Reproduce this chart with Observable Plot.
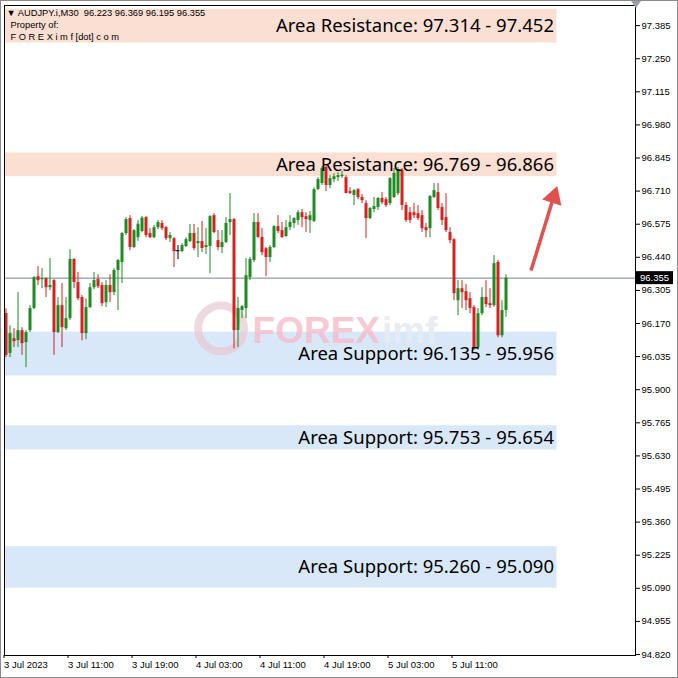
<!DOCTYPE html>
<html><head><meta charset="utf-8">
<script src="https://cdn.jsdelivr.net/npm/d3@7"></script>
<script src="https://cdn.jsdelivr.net/npm/@observablehq/plot@0.6"></script>
<style>
html,body{margin:0;padding:0;background:#fff;}
#chart{width:678px;height:678px;position:relative;overflow:hidden;}
#chart svg{display:block;}
</style></head><body><div id="chart"></div>
<script>
const symbol = "AUDJPY.i,M30";
const opens  = [96.211,96.048,96.108,96.100,96.141,96.092,96.141,96.231,96.361,96.349,96.353,96.316,96.345,96.133,96.243,96.149,96.190,96.431,96.337,96.276,96.129,96.235,96.316,96.349,96.325,96.255,96.325,96.296,96.386,96.419,96.537,96.598,96.480,96.520,96.545,96.602,96.537,96.520,96.561,96.578,96.561,96.516,96.516,96.467,96.463,96.484,96.504,96.537,96.496,96.504,96.480,96.484,96.610,96.508,96.480,96.500,96.582,96.594,96.141,96.223,96.231,96.357,96.427,96.582,96.521,96.475,96.439,96.480,96.565,96.549,96.525,96.561,96.578,96.590,96.622,96.606,96.590,96.586,96.716,96.741,96.806,96.733,96.757,96.765,96.769,96.765,96.708,96.692,96.716,96.684,96.659,96.598,96.635,96.643,96.680,96.675,96.659,96.684,96.700,96.794,96.651,96.622,96.622,96.618,96.610,96.561,96.557,96.684,96.704,96.643,96.602,96.541,96.512,96.263,96.312,96.300,96.271,96.235,96.072,96.210,96.276,96.251,96.243,96.419,96.120,96.223];
const highs  = [96.230,96.161,96.149,96.296,96.153,96.141,96.243,96.361,96.402,96.394,96.357,96.435,96.349,96.276,96.333,96.276,96.471,96.435,96.378,96.284,96.271,96.333,96.378,96.369,96.337,96.345,96.369,96.394,96.431,96.541,96.602,96.610,96.553,96.590,96.606,96.606,96.557,96.570,96.590,96.590,96.565,96.541,96.520,96.488,96.496,96.520,96.574,96.574,96.561,96.586,96.557,96.610,96.618,96.549,96.549,96.602,96.700,96.598,96.276,96.243,96.435,96.439,96.618,96.618,96.557,96.480,96.488,96.570,96.610,96.582,96.590,96.610,96.602,96.631,96.635,96.622,96.627,96.724,96.765,96.810,96.814,96.773,96.781,96.786,96.790,96.773,96.724,96.716,96.720,96.696,96.671,96.643,96.684,96.684,96.704,96.684,96.765,96.802,96.806,96.802,96.663,96.643,96.659,96.651,96.631,96.578,96.692,96.741,96.741,96.659,96.700,96.561,96.516,96.345,96.345,96.329,96.296,96.243,96.231,96.316,96.345,96.312,96.447,96.427,96.263,96.369];
const lows   = [96.031,96.031,96.072,96.072,96.040,95.990,96.133,96.227,96.325,96.312,96.276,96.304,96.040,96.129,96.072,96.141,96.182,96.312,96.263,96.100,96.104,96.231,96.308,96.312,96.239,96.235,96.255,96.284,96.223,96.333,96.529,96.467,96.476,96.505,96.540,96.520,96.516,96.516,96.553,96.549,96.508,96.500,96.398,96.431,96.459,96.480,96.500,96.467,96.439,96.459,96.451,96.373,96.537,96.467,96.455,96.496,96.529,96.067,96.072,96.190,96.190,96.345,96.419,96.516,96.447,96.361,96.419,96.476,96.537,96.516,96.521,96.549,96.557,96.570,96.561,96.541,96.537,96.582,96.712,96.733,96.708,96.720,96.745,96.749,96.761,96.700,96.696,96.651,96.675,96.659,96.516,96.594,96.622,96.631,96.655,96.643,96.651,96.680,96.692,96.631,96.582,96.578,96.598,96.590,96.541,96.520,96.520,96.680,96.631,96.570,96.541,96.496,96.263,96.202,96.231,96.223,96.210,96.060,96.060,96.202,96.235,96.231,96.235,96.112,96.112,96.195];
const closes = [96.040,96.129,96.096,96.141,96.088,96.133,96.231,96.357,96.345,96.353,96.316,96.325,96.133,96.243,96.153,96.190,96.431,96.337,96.271,96.129,96.235,96.316,96.345,96.320,96.251,96.325,96.296,96.386,96.427,96.537,96.594,96.480,96.549,96.575,96.600,96.529,96.520,96.561,96.582,96.557,96.516,96.529,96.463,96.467,96.488,96.512,96.537,96.476,96.504,96.476,96.488,96.606,96.541,96.480,96.500,96.578,96.594,96.141,96.231,96.239,96.365,96.431,96.582,96.521,96.459,96.439,96.480,96.565,96.545,96.521,96.561,96.582,96.598,96.622,96.602,96.594,96.610,96.716,96.757,96.802,96.733,96.761,96.769,96.773,96.775,96.700,96.700,96.712,96.684,96.671,96.598,96.639,96.647,96.680,96.663,96.651,96.761,96.782,96.798,96.651,96.590,96.590,96.610,96.598,96.557,96.549,96.688,96.712,96.639,96.590,96.549,96.508,96.292,96.312,96.296,96.263,96.231,96.072,96.210,96.276,96.247,96.243,96.414,96.120,96.223,96.355];

const yTicks = [97.385,97.250,97.115,96.980,96.845,96.710,96.575,96.440,96.305,96.170,96.035,95.900,95.765,95.630,95.495,95.360,95.225,95.090,94.955,94.820];
const xTickBars = [0,16,32,48,64,80,96,112];
const xTickLabels = ["3 Jul 2023","3 Jul 11:00","3 Jul 19:00","4 Jul 03:00","4 Jul 11:00","4 Jul 19:00","5 Jul 03:00","5 Jul 11:00"];

const zoneKinds = ["Resistance","Resistance","Support","Support","Support"];
const zoneLow   = [97.314, 96.769, 95.956, 95.654, 95.090];
const zoneHigh  = [97.452, 96.866, 96.135, 95.753, 95.260];
const zoneLabels = ["Area Resistance: 97.314 - 97.452","Area Resistance: 96.769 - 96.866","Area Support: 96.135 - 95.956","Area Support: 95.753 - 95.654","Area Support: 95.260 - 95.090"];
const zoneEndBar = 137.75;
const arrowStart = [131.25, 96.386];
const arrowHead = [136.9, 96.686];
const headerLines = ["\u25BC " + symbol, "Property of:", "F O R E X i m f [dot] c o m"];

const GREEN = "#1f8a22", RED = "#d4201f", ARROW = "#e0514f";
const xDom = [-0.375, 157.375];
const yDom = [94.816, 97.467];

const candles = opens.map((o, i) => ({i, o, h: highs[i], l: lows[i], c: closes[i]}));
const col = d => d.c > d.o ? GREEN : d.c < d.o ? RED : "#000";
const zones = zoneLow.map((lo, k) => ({lo, hi: zoneHigh[k], kind: zoneKinds[k], label: zoneLabels[k]}));
const last = candles[candles.length - 1];
const fmt = d3.format(".3f");
const line1 = headerLines[0] + "  " + [last.o, last.h, last.l, last.c].map(fmt).join(" ");

const plot = Plot.plot({
  width: 678, height: 678,
  marginLeft: 4, marginRight: 43, marginTop: 5, marginBottom: 23,
  style: {fontFamily: "'Liberation Sans', Arial, sans-serif", fontSize: "9.5px", color: "#000", background: "#fff", overflow: "visible"},
  x: {domain: xDom},
  y: {domain: yDom},
  marks: [
    Plot.rect(zones, {x1: () => xDom[0], x2: () => zoneEndBar, y1: "lo", y2: "hi",
      fill: d => d.kind === "Resistance" ? "#fcdfd3" : "#d8e8f8"}),
    // watermark
    Plot.dot([0], {frameAnchor: "middle", dx: -99, dy: -2, r: 23, stroke: "#e8c9d3", strokeWidth: 8, fill: "none", opacity: 0.7}),
    Plot.text(["FOREX"], {frameAnchor: "middle", dx: 60, dy: 1, textAnchor: "end", fill: "#f6bccb", fontSize: 37, fontWeight: "bold", opacity: 0.8}),
    Plot.text(["imf"], {frameAnchor: "middle", dx: 62, dy: 1, textAnchor: "start", fill: "#e6ecf2", fontSize: 37, fontWeight: "bold", opacity: 0.9}),
    Plot.ruleY([last.c], {stroke: "#748494", strokeWidth: 1}),
    Plot.ruleX(candles, {x: "i", y1: "l", y2: "h", stroke: col, strokeWidth: 1}),
    Plot.ruleX(candles, {x: "i", y1: "o", y2: "c", stroke: col, strokeWidth: 3}),
    Plot.ruleY(candles.filter(d => d.o === d.c), {y: "o", x1: d => d.i - 0.5, x2: d => d.i + 0.5, stroke: "#000"}),
    Plot.text(zones, {x: () => zoneEndBar, y: d => (d.lo + d.hi) / 2, text: "label", textAnchor: "end", dx: -3,
      fontFamily: "'Noto Sans', sans-serif", fontSize: 18.5, fill: "#000", lineAnchor: "middle"}),
    Plot.link([{a: arrowStart, b: arrowHead}], {x1: d => d.a[0], y1: d => d.a[1], x2: d => d.b[0], y2: d => d.b[1],
      stroke: ARROW, strokeWidth: 3.5}),
    Plot.dot([arrowHead], {x: d => d[0], y: d => d[1], symbol: "triangle", r: 7.5, rotate: 18, fill: ARROW, stroke: "none"}),
    Plot.text([line1], {frameAnchor: "top-left", dx: 2, dy: 8, lineAnchor: "middle", fontSize: 9.3, fill: "#000"}),
    Plot.text([headerLines[1]], {frameAnchor: "top-left", dx: 6, dy: 20, lineAnchor: "middle", fontSize: 9.3, fill: "#000"}),
    Plot.text([headerLines[2]], {frameAnchor: "top-left", dx: 6, dy: 32, lineAnchor: "middle", fontSize: 9.3, fill: "#000"}),
    Plot.frame({stroke: "#000"}),
    Plot.axisY({anchor: "right", label: null, ticks: yTicks, tickFormat: fmt, tickSize: 4, tickPadding: 2, fontSize: 9.5}),
    Plot.axisX({anchor: "bottom", label: null, ticks: xTickBars, tickFormat: d => xTickLabels[xTickBars.indexOf(d)], tickSize: 3, tickPadding: 3, textAnchor: "start", dx: -2, fontSize: 9.5})
  ]
});
document.getElementById("chart").appendChild(plot);

const svg = d3.select(plot);
// price tag for last close, placed through the library's y scale
const yy = plot.scale("y").apply(last.c);
const g = svg.append("g");
g.append("rect").attr("x", 636).attr("y", yy - 6.5).attr("width", 37).attr("height", 13).attr("fill", "#000");
g.append("text").attr("x", 654.5).attr("y", yy).attr("dy", "0.35em").attr("text-anchor", "middle")
  .attr("fill", "#fff").attr("font-size", "9.5px").attr("font-family", "'Liberation Sans', Arial, sans-serif").text(fmt(last.c));
// shift marker triangle top right
g.append("path").attr("d", "M631,1 L641,1 L636,8 Z").attr("fill", "#9aa0a6");
// screenshot border
svg.append("rect").attr("x", 0.5).attr("y", 0.5).attr("width", 677).attr("height", 677).attr("fill", "none").attr("stroke", "#8a8a8a");
</script></body></html>
